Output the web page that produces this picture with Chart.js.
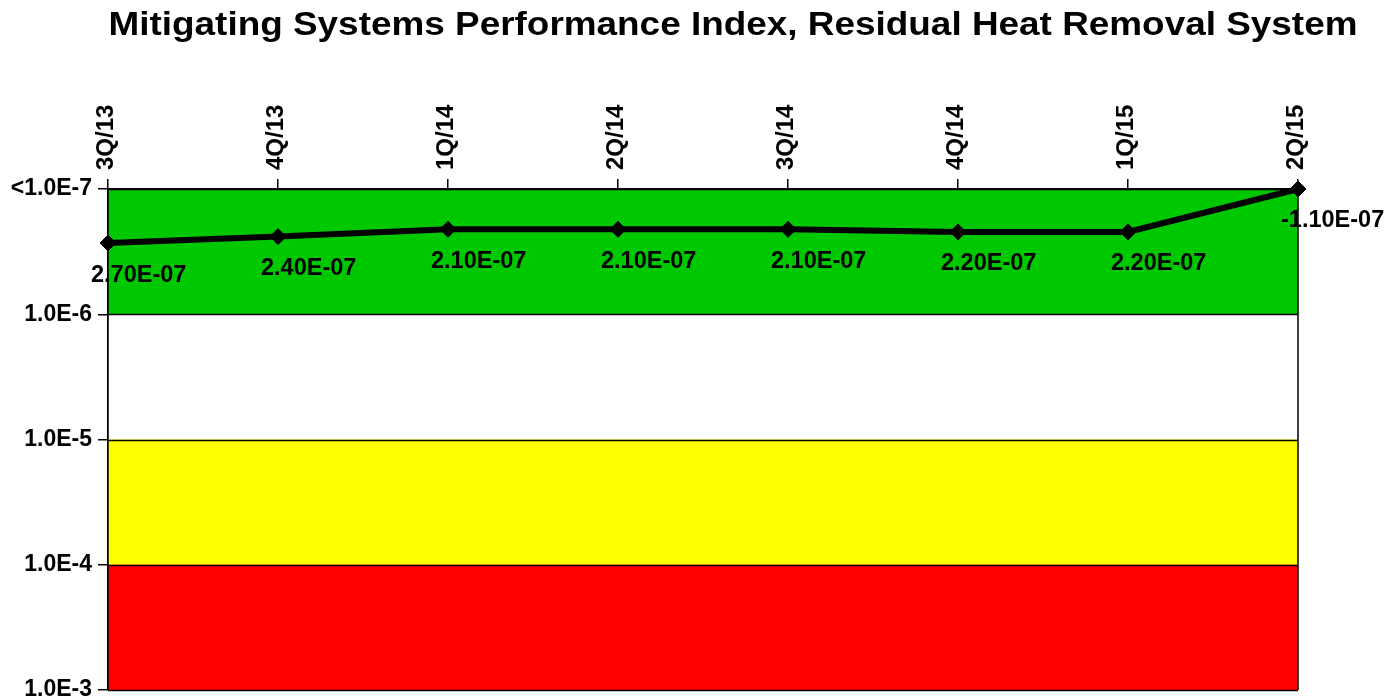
<!DOCTYPE html>
<html>
<head>
<meta charset="utf-8">
<script src="https://cdn.jsdelivr.net/npm/chart.js@4/dist/chart.umd.min.js"></script>
<style>
html,body{margin:0;padding:0;background:#fff;}
canvas{display:block;}
</style>
</head>
<body>
<canvas id="c" width="1397" height="700"></canvas>
<script>
// ---- data ----
const chartTitle = 'Mitigating Systems Performance Index, Residual Heat Removal System';
const quarters = ['3Q/13','4Q/13','1Q/14','2Q/14','3Q/14','4Q/14','1Q/15','2Q/15'];
const indexValues = [2.7e-7, 2.4e-7, 2.1e-7, 2.1e-7, 2.1e-7, 2.2e-7, 2.2e-7, -1.1e-7];
const tickValues = [1e-7, 1e-6, 1e-5, 1e-4, 1e-3];
const tickLabels = ['<1.0E-7', '1.0E-6', '1.0E-5', '1.0E-4', '1.0E-3'];
const bandEdges = [1e-7, 1e-6, 1e-5, 1e-4, 1e-3];
const bandColors = ['#00C800', '#FFFFFF', '#FFFF00', '#FF0000'];

const floorValue = 1e-7; // values below the scale floor are shown at the floor
const plotted = indexValues.map(v => (v < floorValue ? floorValue : v));

function fmtExp(v) {
  const s = v.toExponential(2).toUpperCase();
  return s.replace(/E([+-])(\d)$/, 'E$10$2').replace('E+', 'E');
}

const FONT = 'Arial, "Liberation Sans", sans-serif';

const bandsPlugin = {
  id: 'bands',
  beforeDatasetsDraw(chart) {
    const {ctx, chartArea: a, scales: {y}} = chart;
    ctx.save();
    for (let i = 0; i < bandColors.length; i++) {
      const y1 = y.getPixelForValue(bandEdges[i]);
      const y2 = y.getPixelForValue(bandEdges[i + 1]);
      ctx.fillStyle = bandColors[i];
      ctx.fillRect(a.left, Math.min(y1, y2), a.right - a.left, Math.abs(y2 - y1));
    }
    ctx.strokeStyle = '#000';
    ctx.lineWidth = 1.5;
    for (let i = 0; i < bandEdges.length; i++) {
      const yy = Math.round(y.getPixelForValue(bandEdges[i])) + 0.5;
      ctx.beginPath();
      ctx.moveTo(a.left, yy);
      ctx.lineTo(a.right, yy);
      ctx.stroke();
    }
    ctx.beginPath();
    ctx.moveTo(a.right, a.top);
    ctx.lineTo(a.right, a.bottom);
    ctx.moveTo(a.left, a.top);
    ctx.lineTo(a.left, a.bottom);
    ctx.stroke();
    ctx.restore();
  }
};

const labelsPlugin = {
  id: 'ptlabels',
  afterDatasetsDraw(chart) {
    const {ctx} = chart;
    const meta = chart.getDatasetMeta(0);
    ctx.save();
    ctx.fillStyle = '#000';
    ctx.font = 'bold 23.5px ' + FONT;
    ctx.textAlign = 'left';
    ctx.textBaseline = 'middle';
    meta.data.forEach((pt, i) => {
      ctx.fillText(fmtExp(indexValues[i]), pt.x - 17, pt.y + 32);
    });
    ctx.restore();
  },
  afterDraw(chart) {
    const {ctx} = chart;
    ctx.save();
    ctx.fillStyle = '#000';
    ctx.font = 'bold 34px ' + FONT;
    ctx.textAlign = 'center';
    ctx.textBaseline = 'middle';
    const w = ctx.measureText(chartTitle).width;
    const sx = 1249 / w;
    ctx.translate(733, 26);
    ctx.scale(sx, 1);
    ctx.fillText(chartTitle, 0, 0);
    ctx.restore();
  }
};

new Chart(document.getElementById('c'), {
  type: 'line',
  data: {
    labels: quarters,
    datasets: [{
      data: plotted,
      borderColor: '#000',
      backgroundColor: '#000',
      borderWidth: 6,
      pointStyle: 'rectRot',
      pointRadius: 8,
      pointHoverRadius: 8,
      pointBorderWidth: 1,
      tension: 0,
      fill: false,
      clip: false
    }]
  },
  options: {
    responsive: false,
    animation: false,
    events: [],
    layout: {padding: {left: 0, right: 99, top: 0, bottom: 10}},
    plugins: {legend: {display: false}, title: {display: false}, tooltip: {enabled: false}},
    scales: {
      x: {
        type: 'category',
        position: 'top',
        offset: false,
        grid: {drawOnChartArea: false, color: '#000', tickLength: 10, lineWidth: 1.5},
        border: {color: '#000', width: 1.5},
        ticks: {
          color: '#000',
          font: {family: FONT, size: 24, weight: 'bold'},
          minRotation: 90, maxRotation: 90,
          autoSkip: false,
          padding: 9,
          labelOffset: 27
        },
        afterFit(s) { s.height = 189; s.paddingLeft = 0; s.paddingRight = 0; }
      },
      y: {
        type: 'logarithmic',
        reverse: true,
        min: 1e-7,
        max: 1e-3,
        grid: {drawOnChartArea: false, color: '#000', tickLength: 10, lineWidth: 1.5},
        border: {color: '#000', width: 1.5},
        afterBuildTicks(s) { s.ticks = tickValues.map(v => ({value: v})); },
        ticks: {
          color: '#000',
          font: {family: FONT, size: 23, weight: 'bold'},
          padding: 6,
          callback(value) {
            const i = tickValues.findIndex(t => Math.abs(t - value) / t < 1e-6);
            return i >= 0 ? tickLabels[i] : '';
          }
        },
        afterFit(s) { s.width = 108; s.paddingTop = 0; s.paddingBottom = 0; }
      }
    }
  },
  plugins: [bandsPlugin, labelsPlugin]
});
</script>
</body>
</html>
